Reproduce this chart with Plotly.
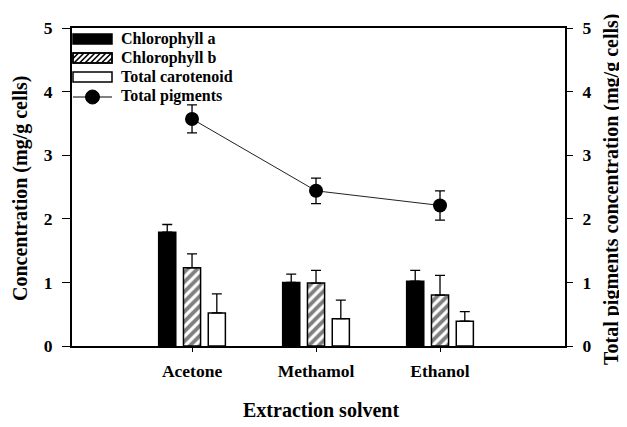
import plotly.graph_objects as go

solvents = ["Acetone", "Methamol", "Ethanol"]
chl_a = [1.79, 1.00, 1.02]
chl_a_err = [0.12, 0.13, 0.17]
chl_b = [1.23, 0.99, 0.80]
chl_b_err = [0.22, 0.20, 0.31]
carot = [0.52, 0.43, 0.39]
carot_err = [0.30, 0.29, 0.15]
total = [3.57, 2.44, 2.21]
total_err = [0.22, 0.20, 0.23]

FONT = "Liberation Serif"
OFF = 8  # page body margin
W, H = 627 - OFF, 427 - OFF
# plot area in reference (window) pixels
RL, RR, RT, RB = 72, 565, 28, 346
L, R, T, B = RL - OFF, RR - OFF, RT - OFF, RB - OFF

def px(x):
    return (x - RL) / (RR - RL)

def py(y):
    return (RB - y) / (RB - RT)

fig = go.Figure()

def bar_err(e):
    return dict(type="data", array=e, arrayminus=[0] * len(e), symmetric=False,
                color="black", thickness=1.3, width=5)

fig.add_trace(go.Bar(x=solvents, y=chl_a, name="Chlorophyll a",
                     marker=dict(color="black", line=dict(color="black", width=1.5)),
                     error_y=bar_err(chl_a_err), showlegend=False))
fig.add_trace(go.Bar(x=solvents, y=chl_b, name="Chlorophyll b",
                     marker=dict(color="white", line=dict(color="black", width=1.5),
                                 pattern=dict(shape="/", fgcolor="black", bgcolor="white",
                                              size=7, solidity=0.55)),
                     error_y=bar_err(chl_b_err), showlegend=False))
fig.add_trace(go.Bar(x=solvents, y=carot, name="Total carotenoid",
                     marker=dict(color="white", line=dict(color="black", width=1.5)),
                     error_y=bar_err(carot_err), showlegend=False))
fig.add_trace(go.Scatter(x=solvents, y=total, name="Total pigments", yaxis="y2",
                         mode="lines+markers",
                         line=dict(color="#222", width=1),
                         marker=dict(symbol="circle", size=14, color="black"),
                         error_y=dict(type="data", array=total_err, color="black",
                                      thickness=1.3, width=5),
                         showlegend=False))

# custom legend
shapes = []
ann = []
lx0, lx1 = 73, 112
rows = [(34, 44), (53, 63), (72, 82)]
shapes.append(dict(type="rect", xref="paper", yref="paper", x0=px(lx0), x1=px(lx1),
                   y0=py(rows[0][1]), y1=py(rows[0][0]), fillcolor="black",
                   line=dict(color="black", width=1.5)))
shapes.append(dict(type="rect", xref="paper", yref="paper", x0=px(lx0), x1=px(lx1),
                   y0=py(rows[1][1]), y1=py(rows[1][0]), fillcolor="white",
                   line=dict(color="black", width=1.5)))
ytop, ybot = rows[1]
h = ybot - ytop
c = lx0 - h
while c < lx1:
    xa, ya = c, ybot
    xb, yb = c + h, ytop
    if xa < lx0:
        ya = ybot - (lx0 - xa)
        xa = lx0
    if xb > lx1:
        yb = ybot - (lx1 - c)
        xb = lx1
    if xb > xa:
        shapes.append(dict(type="line", xref="paper", yref="paper", x0=px(xa), y0=py(ya),
                           x1=px(xb), y1=py(yb), line=dict(color="black", width=1.6)))
    c += 5.5
shapes.append(dict(type="rect", xref="paper", yref="paper", x0=px(lx0), x1=px(lx1),
                   y0=py(rows[1][1]), y1=py(rows[1][0]), fillcolor="rgba(0,0,0,0)",
                   line=dict(color="black", width=1.5)))
shapes.append(dict(type="rect", xref="paper", yref="paper", x0=px(lx0), x1=px(lx1),
                   y0=py(rows[2][1]), y1=py(rows[2][0]), fillcolor="white",
                   line=dict(color="black", width=1.5)))
shapes.append(dict(type="line", xref="paper", yref="paper", x0=px(lx0), x1=px(lx1),
                   y0=py(97), y1=py(97), line=dict(color="black", width=1)))
shapes.append(dict(type="circle", xref="paper", yref="paper", x0=px(85.5), x1=px(99.5),
                   y0=py(104), y1=py(90), fillcolor="black", line=dict(color="black", width=1)))

labels = ["Chlorophyll a", "Chlorophyll b", "Total carotenoid", "Total pigments"]
ys = [39, 58, 77, 96]
for t, yy in zip(labels, ys):
    ann.append(dict(text=t, xref="paper", yref="paper", x=px(119), y=py(yy),
                    xanchor="left", yanchor="middle", showarrow=False,
                    font=dict(family=FONT, size=16, color="black", weight="bold")))

titlefont = dict(family=FONT, size=20, color="black", weight="bold")
ann.append(dict(text="Concentration (mg/g cells)", xref="paper", yref="paper",
                x=px(20), y=py(188), xanchor="center", yanchor="middle", textangle=-90,
                showarrow=False, font=titlefont))
ann.append(dict(text="Total pigments concentration (mg/g cells)", xref="paper", yref="paper",
                x=px(611), y=py(190), xanchor="center", yanchor="middle", textangle=-90,
                showarrow=False, font=titlefont))
ann.append(dict(text="Extraction solvent", xref="paper", yref="paper",
                x=px(321), y=py(410), xanchor="center", yanchor="middle",
                showarrow=False, font=titlefont))

axfont = dict(family=FONT, size=17.5, color="black", weight="bold")

fig.update_layout(
    width=W, height=H,
    margin=dict(l=L, r=W - R, t=T, b=H - B, pad=0, autoexpand=False),
    paper_bgcolor="white", plot_bgcolor="white",
    barmode="group", bargap=0.4, bargroupgap=0.31,
    shapes=shapes, annotations=ann,
    xaxis=dict(range=[-0.968, 3.008], showline=True, linewidth=2, linecolor="black",
               mirror=True, ticks="outside", ticklen=4, tickwidth=1, tickcolor="black",
               tickfont=axfont, showgrid=False, zeroline=False, automargin=False,
               ticklabelstandoff=4),
    yaxis=dict(range=[0, 5], dtick=1, showline=True, linewidth=2, linecolor="black",
               ticks="outside", ticklen=8, tickwidth=1, tickcolor="black",
               tickfont=axfont, showgrid=False, zeroline=False, ticklabelstandoff=6,
               automargin=False),
    yaxis2=dict(range=[0, 5], dtick=1, overlaying="y", side="right", showline=True,
                linewidth=2, linecolor="black", ticks="outside", ticklen=6, tickwidth=1,
                tickcolor="black", tickfont=axfont, showgrid=False, zeroline=False,
                ticklabelstandoff=6, automargin=False),
)

fig.write_html("out.html")
